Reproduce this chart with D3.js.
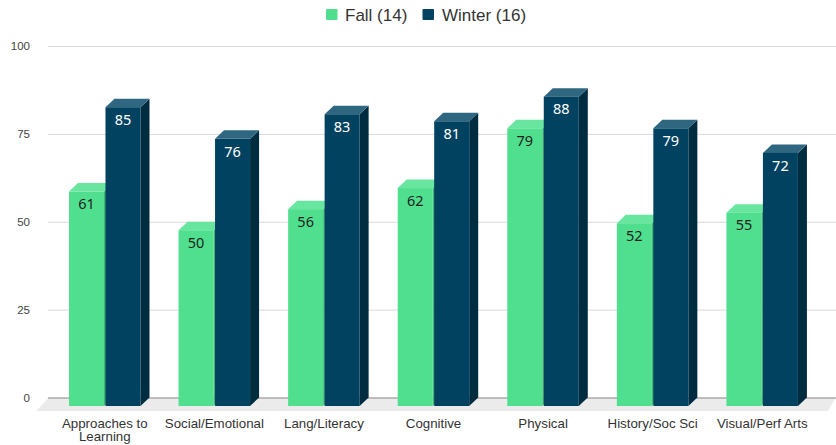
<!DOCTYPE html>
<html>
<head>
<meta charset="utf-8">
<script src="https://cdn.jsdelivr.net/npm/d3@7"></script>
<style>
  html, body { margin: 0; background: #fff; }
  svg { display: block; }
</style>
</head>
<body>
<svg id="chart"></svg>
<script>
const categories = ['Approaches to Learning', 'Social/Emotional', 'Lang/Literacy', 'Cognitive', 'Physical', 'History/Soc Sci', 'Visual/Perf Arts']
const seriesNames = ['Fall (14)', 'Winter (16)']
const fall = [61, 50, 56, 62, 79, 52, 55]
const winter = [85, 76, 83, 81, 88, 79, 72]
const yTicks = [0, 25, 50, 75, 100]

const width = 836
const height = 445
const depthX = 9
const depthY = 8.5

const colors = [
  {front: '#4fdf8e', top: '#68e59f', side: '#3fb272', text: '#1f1f1f'},
  {front: '#00425f', top: '#2f6680', side: '#002c40', text: '#ffffff'}
]

const svg = d3.select('#chart').attr('width', width).attr('height', height)

const x = d3.scaleBand().domain(categories).range([50, 817]).paddingInner(0).paddingOuter(0)
const inner = d3.scaleBand().domain(seriesNames).range([19, 90.5]).paddingInner(0.04)
const y = d3.scaleLinear().domain([0, 100]).range([397.5, 46])

// floor under the bars
const y0 = y(0)
svg.append('polygon')
  .attr('points', [[49, y0], [836, y0], [828, y0 + 13.5], [36, y0 + 13.5]].join(' '))
  .attr('fill', '#ebebeb')

// gridlines + y labels
const yAxis = d3.axisLeft(y).tickValues(yTicks).tickSize(-(width - 48)).tickPadding(18)
const gy = svg.append('g').attr('transform', 'translate(48,0)').call(yAxis)
gy.select('.domain').remove()
gy.selectAll('.tick line').attr('stroke', d => d === 0 ? '#8a8a8a' : '#d9d9d9')
gy.selectAll('.tick text')
  .attr('fill', '#444')
  .style('font-family', '"Liberation Sans", Arial, sans-serif')
  .style('font-size', '11.5px')

// bars
const rows = [fall, winter]
seriesNames.forEach((name, s) => {
  const c = colors[s]
  const bw = inner.bandwidth()
  const g = svg.append('g').attr('class', 'series')
  const bars = g.selectAll('g').data(rows[s].map((v, i) => ({v: v, cat: categories[i]}))).enter().append('g')

  bars.append('polygon')
    .attr('fill', c.side)
    .attr('points', d => {
      const r = x(d.cat) + inner(name) + bw
      return [[r, y(d.v) + depthY], [r + depthX, y(d.v)], [r + depthX, y0], [r, y0 + depthY]].join(' ')
    })
  bars.append('polygon')
    .attr('fill', c.top)
    .attr('points', d => {
      const l = x(d.cat) + inner(name)
      return [[l, y(d.v) + depthY], [l + depthX, y(d.v)], [l + bw + depthX, y(d.v)], [l + bw, y(d.v) + depthY]].join(' ')
    })
  bars.append('rect')
    .attr('fill', c.front)
    .attr('x', d => x(d.cat) + inner(name))
    .attr('y', d => y(d.v) + depthY)
    .attr('width', bw)
    .attr('height', d => y0 - y(d.v))
})

// value labels go on top of everything
seriesNames.forEach((name, s) => {
  svg.append('g').selectAll('text')
    .data(rows[s].map((v, i) => ({v: v, cat: categories[i]})))
    .enter().append('text')
    .attr('x', d => x(d.cat) + inner(name) + inner.bandwidth() / 2)
    .attr('y', d => y(d.v) + depthY + 12.5)
    .attr('dy', '0.36em')
    .attr('text-anchor', 'middle')
    .attr('fill', colors[s].text)
    .style('font-family', '"Noto Sans", sans-serif')
    .style('font-size', '14.5px')
    .text(d => d.v)
})

// category labels
const xAxis = d3.axisBottom(x).tickSize(0).tickPadding(0)
const gx = svg.append('g').attr('transform', 'translate(0,' + (y0 + 30) + ')').call(xAxis)
gx.select('.domain').remove()
gx.selectAll('.tick text')
  .attr('fill', '#333')
  .attr('dy', null)
  .attr('y', 0)
  .style('font-family', '"Liberation Sans", Arial, sans-serif')
  .style('font-size', '13.3px')
  .each(function(d) {
    const t = d3.select(this)
    const words = d.split(' ')
    t.text(null)
    let line = []
    let lineNo = 0
    let span = t.append('tspan').attr('x', 0).attr('y', 0)
    words.forEach(w => {
      line.push(w)
      span.text(line.join(' '))
      if (span.node().getComputedTextLength() > 100 && line.length > 1) {
        line.pop()
        span.text(line.join(' '))
        line = [w]
        lineNo++
        span = t.append('tspan').attr('x', 0).attr('y', lineNo * 13).text(w)
      }
    })
  })

// legend
const legendX = [326, 422.5]
const legendTextX = [345, 442]
seriesNames.forEach((name, s) => {
  svg.append('rect')
    .attr('x', legendX[s]).attr('y', 9)
    .attr('width', 11.5).attr('height', 11)
    .attr('rx', 1)
    .attr('fill', colors[s].front)
  svg.append('text')
    .attr('x', legendTextX[s]).attr('y', 14.5)
    .attr('dy', '0.36em')
    .attr('fill', '#333')
    .style('font-family', '"Liberation Sans", Arial, sans-serif')
    .style('font-size', '17px')
    .text(name)
})
</script>
</body>
</html>
